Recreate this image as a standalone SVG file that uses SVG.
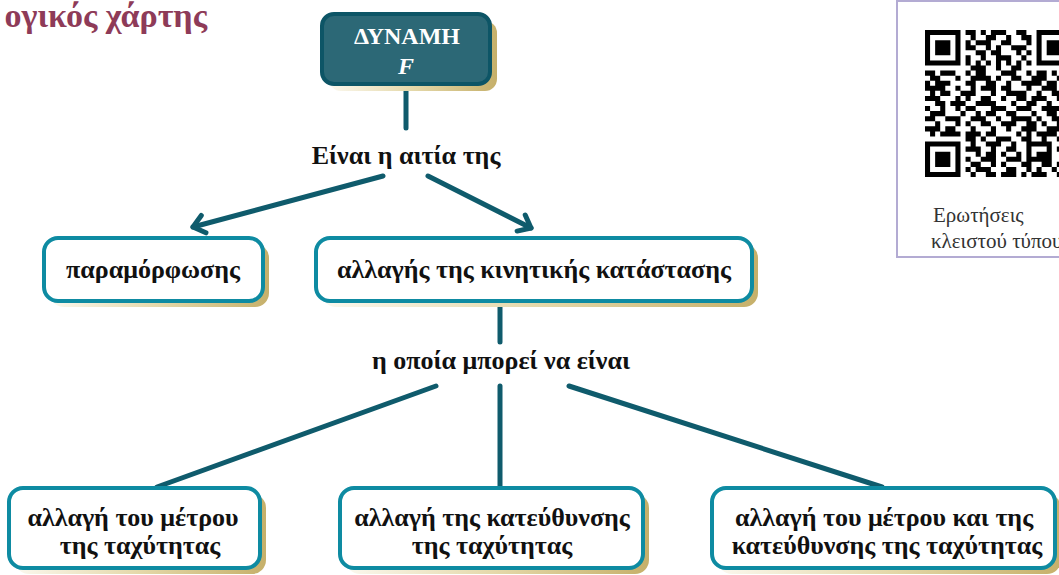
<svg xmlns="http://www.w3.org/2000/svg" width="1059" height="575" viewBox="0 0 1059 575">
<style>
.conn{stroke:#0F5B6C;stroke-width:5;stroke-linecap:round;fill:none}
.box{fill:#fff;stroke:#0E8BA2;stroke-width:4}
.dbox{fill:#2C6876;stroke:#0D5566;stroke-width:4}
.shadow{fill:url(#gold)}
.lbl{font-family:"Liberation Serif","DejaVu Serif",serif;font-weight:bold;font-size:26px;fill:#111;text-anchor:middle}
.title{font-family:"Liberation Serif","DejaVu Serif",serif;font-weight:bold;font-size:34px;fill:#8E3B58;text-anchor:end}
.cap{font-family:"Liberation Serif","DejaVu Serif",serif;font-size:21px;fill:#333}
</style>
<defs>
<linearGradient id="gold" x1="0" y1="0" x2="1" y2="0">
<stop offset="0" stop-color="#FBF8EE"/>
<stop offset="0.5" stop-color="#E4D8A9"/>
<stop offset="1" stop-color="#C6B06A"/>
</linearGradient>
<marker id="chev" markerUnits="userSpaceOnUse" markerWidth="30" markerHeight="30" refX="0" refY="0" viewBox="-20 -15 30 30" orient="auto">
<path d="M-11,-9 L0,0 L-11,9" fill="none" stroke="#0F5B6C" stroke-width="5" stroke-linecap="round" stroke-linejoin="round"/>
</marker>
</defs>

<text class="title" x="207" y="27">ογικός χάρτης</text>

<g id="qr-panel">
<rect x="897" y="1" width="200" height="256" fill="#fff" stroke="#B3ABD3" stroke-width="2"/>
<g transform="translate(925,30) scale(5.07)" fill="#000">
<path fill-rule="evenodd" d="M0 0h7v7h-7z M1 1v5h5v-5z M2 2h3v3h-3z M22 0h7v7h-7z M23 1v5h5v-5z M24 2h3v3h-3z M0 22h7v7h-7z M1 23v5h5v-5z M2 24h3v3h-3z"/>
<path d="M8 0h2v1h-2z M11 0h1v1h-1z M13 0h3v1h-3z M18 0h2v1h-2z
M9 1h1v1h-1z M12 1h2v1h-2z M16 1h1v1h-1z M19 1h2v1h-2z
M8 2h1v1h-1z M10 2h3v1h-3z M15 2h2v1h-2z M20 2h1v1h-1z
M8 3h2v1h-2z M12 3h1v1h-1z M14 3h1v1h-1z M17 3h3v1h-3z
M10 4h2v1h-2z M13 4h2v1h-2z M18 4h1v1h-1z M20 4h1v1h-1z
M8 5h1v1h-1z M11 5h1v1h-1z M14 5h3v1h-3z M19 5h1v1h-1z
M8 6h1v1h-1z M10 6h1v1h-1z M12 6h1v1h-1z M14 6h1v1h-1z M16 6h1v1h-1z M18 6h1v1h-1z M20 6h1v1h-1z
M9 7h3v1h-3z M14 7h1v1h-1z M17 7h2v1h-2z
M0 8h2v1h-2z M3 8h3v1h-3z M8 8h1v1h-1z M10 8h2v1h-2z M15 8h3v1h-3z M20 8h1v1h-1z M22 8h2v1h-2z M25 8h1v1h-1z M27 8h2v1h-2z
M1 9h2v1h-2z M6 9h1v1h-1z M9 9h4v1h-4z M14 9h1v1h-1z M17 9h2v1h-2z M21 9h3v1h-3z M26 9h1v1h-1z
M0 10h1v1h-1z M2 10h3v1h-3z M8 10h2v1h-2z M12 10h2v1h-2z M16 10h1v1h-1z M19 10h4v1h-4z M24 10h2v1h-2z M28 10h1v1h-1z
M0 11h4v1h-4z M6 11h1v1h-1z M9 11h1v1h-1z M11 11h3v1h-3z M15 11h2v1h-2z M20 11h1v1h-1z M23 11h3v1h-3z M27 11h2v1h-2z
M1 12h1v1h-1z M3 12h2v1h-2z M7 12h3v1h-3z M13 12h1v1h-1z M16 12h4v1h-4z M22 12h1v1h-1z M25 12h2v1h-2z
M0 13h3v1h-3z M6 13h1v1h-1z M8 13h1v1h-1z M11 13h2v1h-2z M15 13h1v1h-1z M18 13h2v1h-2z M21 13h3v1h-3z M26 13h3v1h-3z
M2 14h2v1h-2z M5 14h3v1h-3z M10 14h4v1h-4z M17 14h1v1h-1z M20 14h2v1h-2z M24 14h1v1h-1z M27 14h1v1h-1z
M0 15h1v1h-1z M3 15h1v1h-1z M6 15h1v1h-1z M8 15h2v1h-2z M13 15h3v1h-3z M18 15h3v1h-3z M23 15h4v1h-4z
M1 16h3v1h-3z M7 16h1v1h-1z M10 16h1v1h-1z M12 16h2v1h-2z M16 16h2v1h-2z M21 16h1v1h-1z M24 16h2v1h-2z M28 16h1v1h-1z
M0 17h2v1h-2z M4 17h3v1h-3z M9 17h3v1h-3z M14 17h1v1h-1z M17 17h4v1h-4z M22 17h1v1h-1z M25 17h3v1h-3z
M2 18h1v1h-1z M6 18h1v1h-1z M8 18h1v1h-1z M11 18h2v1h-2z M15 18h3v1h-3z M20 18h2v1h-2z M23 18h1v1h-1z M26 18h2v1h-2z
M0 19h3v1h-3z M4 19h2v1h-2z M9 19h1v1h-1z M13 19h1v1h-1z M16 19h1v1h-1z M19 19h3v1h-3z M24 19h3v1h-3z
M1 20h1v1h-1z M3 20h4v1h-4z M8 20h3v1h-3z M12 20h2v1h-2z M18 20h1v1h-1z M20 20h1v1h-1z M22 20h4v1h-4z M28 20h1v1h-1z
M8 21h2v1h-2z M11 21h1v1h-1z M14 21h3v1h-3z M19 21h2v1h-2z M23 21h1v1h-1z M26 21h2v1h-2z
M9 22h1v1h-1z M12 22h3v1h-3z M17 22h1v1h-1z M20 22h5v1h-5z M27 22h1v1h-1z
M8 23h3v1h-3z M13 23h1v1h-1z M16 23h2v1h-2z M20 23h1v1h-1z M24 23h1v1h-1z M26 23h3v1h-3z
M10 24h1v1h-1z M12 24h2v1h-2z M15 24h1v1h-1z M18 24h1v1h-1z M20 24h1v1h-1z M22 24h3v1h-3z M27 24h1v1h-1z
M8 25h1v1h-1z M11 25h3v1h-3z M16 25h3v1h-3z M20 25h5v1h-5z M28 25h1v1h-1z
M9 26h2v1h-2z M13 26h1v1h-1z M15 26h1v1h-1z M19 26h2v1h-2z M23 26h2v1h-2z M26 26h2v1h-2z
M8 27h1v1h-1z M10 27h3v1h-3z M16 27h2v1h-2z M20 27h1v1h-1z M22 27h1v1h-1z M25 27h1v1h-1z M28 27h1v1h-1z
M9 28h1v1h-1z M12 28h2v1h-2z M15 28h3v1h-3z M19 28h1v1h-1z M21 28h3v1h-3z M26 28h2v1h-2z"/>
</g>
<text class="cap" x="933" y="222">Ερωτήσεις</text>
<text class="cap" x="931" y="248">κλειστού τύπου</text>
</g>

<g id="connectors">
<line class="conn" x1="406" y1="87" x2="406" y2="128"/>
<line class="conn" x1="383" y1="176" x2="193" y2="227" marker-end="url(#chev)"/>
<line class="conn" x1="428" y1="176" x2="531" y2="228" marker-end="url(#chev)"/>
<line class="conn" x1="500" y1="306" x2="500" y2="342"/>
<line class="conn" x1="436" y1="386" x2="157" y2="487"/>
<line class="conn" x1="500" y1="386" x2="500" y2="487"/>
<line class="conn" x1="569" y1="386" x2="882" y2="487"/>
</g>

<g id="node-dynami">
<rect class="shadow" x="329" y="21" width="168" height="70" rx="12"/>
<rect class="dbox" x="322" y="14" width="168" height="70" rx="12"/>
<text class="lbl" x="407" y="44" style="fill:#fff;font-size:24px">ΔΥΝΑΜΗ</text>
<text class="lbl" x="406" y="74" style="fill:#fff;font-style:italic;font-size:24px">F</text>
</g>

<text id="label-aitia" class="lbl" x="406" y="164">Είναι η αιτία της</text>

<g id="node-paramorfosis">
<rect class="shadow" x="50" y="244" width="219" height="63" rx="14"/>
<rect class="box" x="44" y="238" width="219" height="63" rx="14"/>
<text class="lbl" x="153" y="278">παραμόρφωσης</text>
</g>

<g id="node-kinitiki">
<rect class="shadow" x="322" y="244" width="436" height="63" rx="14"/>
<rect class="box" x="316" y="238" width="436" height="63" rx="14"/>
<text class="lbl" x="534" y="278">αλλαγής της κινητικής κατάστασης</text>
</g>

<text id="label-opoia" class="lbl" x="501" y="369">η οποία μπορεί να είναι</text>

<g id="node-metro">
<rect class="shadow" x="15" y="494" width="251" height="80" rx="14"/>
<rect class="box" x="9" y="488" width="251" height="80" rx="14"/>
<text class="lbl" x="133" y="526">αλλαγή του μέτρου</text>
<text class="lbl" x="140" y="554">της ταχύτητας</text>
</g>

<g id="node-katefthynsi">
<rect class="shadow" x="346" y="494" width="303" height="80" rx="14"/>
<rect class="box" x="340" y="488" width="303" height="80" rx="14"/>
<text class="lbl" x="492" y="526">αλλαγή της κατεύθυνσης</text>
<text class="lbl" x="492" y="554">της ταχύτητας</text>
</g>

<g id="node-metro-katefthynsi">
<rect class="shadow" x="718" y="494" width="343" height="80" rx="14"/>
<rect class="box" x="712" y="488" width="343" height="80" rx="14"/>
<text class="lbl" x="884" y="526">αλλαγή του μέτρου και της</text>
<text class="lbl" x="887" y="554">κατεύθυνσης της ταχύτητας</text>
</g>
</svg>
